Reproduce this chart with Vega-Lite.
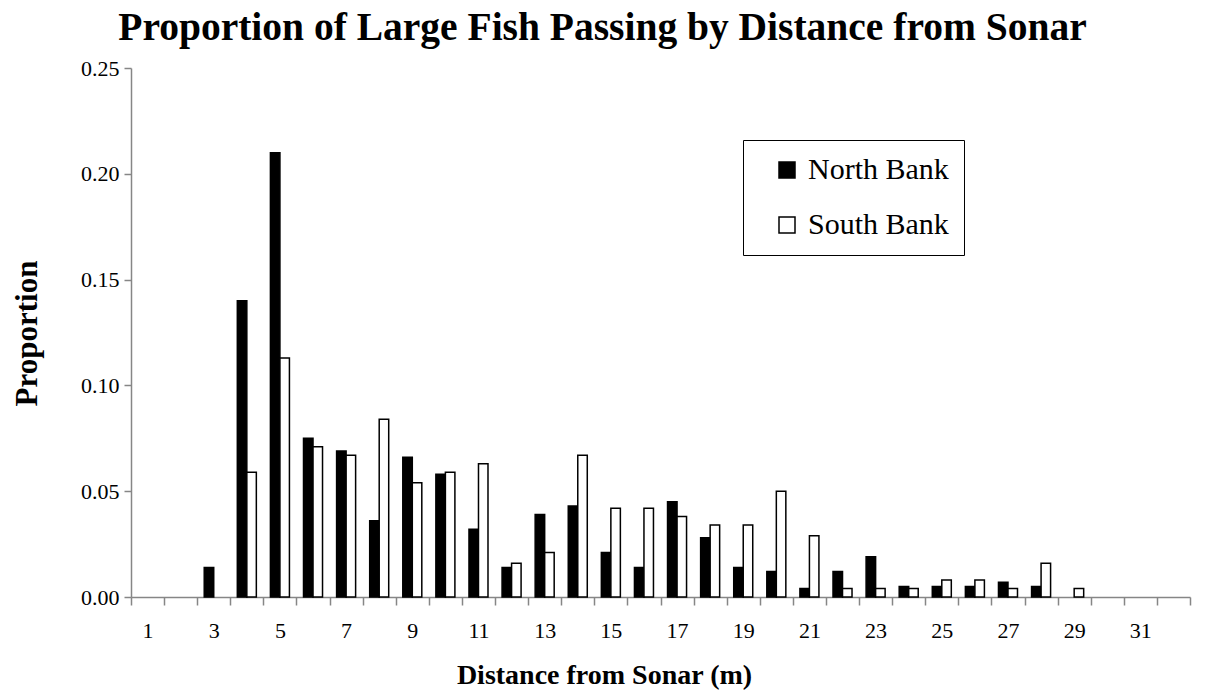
{
  "$schema": "https://vega.github.io/schema/vega-lite/v6.json",
  "width": 1059,
  "height": 529,
  "autosize": {"type": "none"},
  "padding": {"left": 131, "top": 68, "right": 17, "bottom": 99},
  "background": "white",
  "title": {
    "text": "Proportion of Large Fish Passing by Distance from Sonar",
    "font": "Liberation Serif",
    "fontSize": 39.5,
    "fontWeight": "bold",
    "color": "black",
    "anchor": "middle",
    "dx": -58,
    "offset": 9
  },
  "data": {
    "values": [
      {"distance": 3, "bank": "North Bank", "proportion": 0.014},
      {"distance": 4, "bank": "North Bank", "proportion": 0.14},
      {"distance": 5, "bank": "North Bank", "proportion": 0.21},
      {"distance": 6, "bank": "North Bank", "proportion": 0.075},
      {"distance": 7, "bank": "North Bank", "proportion": 0.069},
      {"distance": 8, "bank": "North Bank", "proportion": 0.036},
      {"distance": 9, "bank": "North Bank", "proportion": 0.066},
      {"distance": 10, "bank": "North Bank", "proportion": 0.058},
      {"distance": 11, "bank": "North Bank", "proportion": 0.032},
      {"distance": 12, "bank": "North Bank", "proportion": 0.014},
      {"distance": 13, "bank": "North Bank", "proportion": 0.039},
      {"distance": 14, "bank": "North Bank", "proportion": 0.043},
      {"distance": 15, "bank": "North Bank", "proportion": 0.021},
      {"distance": 16, "bank": "North Bank", "proportion": 0.014},
      {"distance": 17, "bank": "North Bank", "proportion": 0.045},
      {"distance": 18, "bank": "North Bank", "proportion": 0.028},
      {"distance": 19, "bank": "North Bank", "proportion": 0.014},
      {"distance": 20, "bank": "North Bank", "proportion": 0.012},
      {"distance": 21, "bank": "North Bank", "proportion": 0.004},
      {"distance": 22, "bank": "North Bank", "proportion": 0.012},
      {"distance": 23, "bank": "North Bank", "proportion": 0.019},
      {"distance": 24, "bank": "North Bank", "proportion": 0.005},
      {"distance": 25, "bank": "North Bank", "proportion": 0.005},
      {"distance": 26, "bank": "North Bank", "proportion": 0.005},
      {"distance": 27, "bank": "North Bank", "proportion": 0.007},
      {"distance": 28, "bank": "North Bank", "proportion": 0.005},
      {"distance": 4, "bank": "South Bank", "proportion": 0.059},
      {"distance": 5, "bank": "South Bank", "proportion": 0.113},
      {"distance": 6, "bank": "South Bank", "proportion": 0.071},
      {"distance": 7, "bank": "South Bank", "proportion": 0.067},
      {"distance": 8, "bank": "South Bank", "proportion": 0.084},
      {"distance": 9, "bank": "South Bank", "proportion": 0.054},
      {"distance": 10, "bank": "South Bank", "proportion": 0.059},
      {"distance": 11, "bank": "South Bank", "proportion": 0.063},
      {"distance": 12, "bank": "South Bank", "proportion": 0.016},
      {"distance": 13, "bank": "South Bank", "proportion": 0.021},
      {"distance": 14, "bank": "South Bank", "proportion": 0.067},
      {"distance": 15, "bank": "South Bank", "proportion": 0.042},
      {"distance": 16, "bank": "South Bank", "proportion": 0.042},
      {"distance": 17, "bank": "South Bank", "proportion": 0.038},
      {"distance": 18, "bank": "South Bank", "proportion": 0.034},
      {"distance": 19, "bank": "South Bank", "proportion": 0.034},
      {"distance": 20, "bank": "South Bank", "proportion": 0.05},
      {"distance": 21, "bank": "South Bank", "proportion": 0.029},
      {"distance": 22, "bank": "South Bank", "proportion": 0.004},
      {"distance": 23, "bank": "South Bank", "proportion": 0.004},
      {"distance": 24, "bank": "South Bank", "proportion": 0.004},
      {"distance": 25, "bank": "South Bank", "proportion": 0.008},
      {"distance": 26, "bank": "South Bank", "proportion": 0.008},
      {"distance": 27, "bank": "South Bank", "proportion": 0.004},
      {"distance": 28, "bank": "South Bank", "proportion": 0.016},
      {"distance": 29, "bank": "South Bank", "proportion": 0.004}
    ]
  },
  "mark": {"type": "bar", "stroke": "black", "strokeWidth": 1.5},
  "encoding": {
    "x": {
      "field": "distance",
      "type": "ordinal",
      "scale": {
        "domain": [1,2,3,4,5,6,7,8,9,10,11,12,13,14,15,16,17,18,19,20,21,22,23,24,25,26,27,28,29,30,31,32],
        "paddingInner": 0,
        "paddingOuter": 0
      },
      "axis": {
        "title": "Distance from Sonar (m)",
        "titleFont": "Liberation Serif",
        "titleFontSize": 28,
        "titleFontWeight": "bold",
        "titleColor": "black",
        "titleX": 473,
        "titleY": 78,
        "titleBaseline": "middle",
        "titleAnchor": "middle",
        "labelAngle": 0,
        "labelExpr": "datum.value % 2 === 1 ? datum.label : ''",
        "labelFont": "Liberation Serif",
        "labelFontSize": 22,
        "labelColor": "black",
        "labelPadding": 15,
        "tickBand": "extent",
        "tickSize": 8,
        "tickColor": "#868686",
        "domainColor": "#868686",
        "tickWidth": 1.5,
        "domainWidth": 1.5,
        "grid": false
      }
    },
    "xOffset": {
      "field": "bank",
      "type": "nominal",
      "scale": {"domain": ["North Bank", "South Bank"], "paddingInner": 0, "paddingOuter": 0.74}
    },
    "y": {
      "field": "proportion",
      "type": "quantitative",
      "scale": {"domain": [0, 0.25], "nice": false},
      "axis": {
        "title": "Proportion",
        "titleFont": "Liberation Serif",
        "titleFontSize": 31,
        "titleFontWeight": "bold",
        "titleColor": "black",
        "titleAngle": 270,
        "titleX": -104,
        "titleY": 265,
        "titleBaseline": "middle",
        "titleAnchor": "middle",
        "values": [0, 0.05, 0.1, 0.15, 0.2, 0.25],
        "format": ".2f",
        "labelFont": "Liberation Serif",
        "labelFontSize": 22,
        "labelColor": "black",
        "labelPadding": 5,
        "tickSize": 7,
        "tickColor": "#868686",
        "domainColor": "#868686",
        "tickWidth": 1.5,
        "domainWidth": 1.5,
        "grid": false
      }
    },
    "fill": {
      "field": "bank",
      "type": "nominal",
      "scale": {"domain": ["North Bank", "South Bank"], "range": ["black", "white"]},
      "legend": {
        "title": null,
        "orient": "none",
        "legendX": 612,
        "legendY": 72,
        "direction": "vertical",
        "padding": 15,
        "strokeColor": "black",
        "fillColor": "white",
        "symbolType": "square",
        "symbolSize": 256,
        "symbolOffset": 14,
        "symbolStrokeColor": "black",
        "symbolStrokeWidth": 1.5,
        "labelFont": "Liberation Serif",
        "labelFontSize": 30,
        "labelColor": "black",
        "labelOffset": 6,
        "rowPadding": 25
      }
    }
  },
  "config": {
    "font": "Liberation Serif",
    "view": {"stroke": null},
    "axis": {"labelFont": "Liberation Serif", "titleFont": "Liberation Serif"},
    "legend": {"labelFont": "Liberation Serif"}
  }
}
